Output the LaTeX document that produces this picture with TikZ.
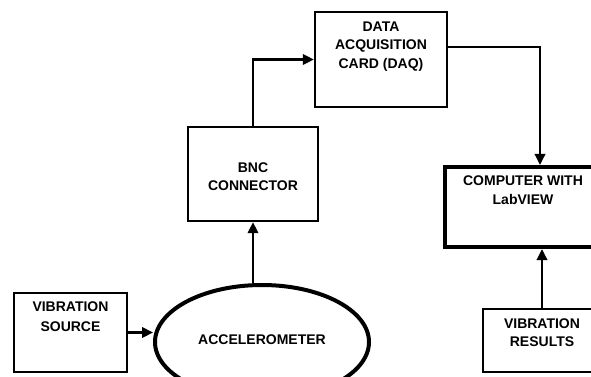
\documentclass[tikz,border=0pt]{standalone}
\usepackage{fontspec}
\setmainfont{Liberation Sans}
\usetikzlibrary{arrows.meta,shapes.geometric,calc}
\tikzset{
  box/.style={draw=black, line width=2.4pt, rectangle, inner sep=0pt},
  thickbox/.style={draw=black, line width=4.2pt, rectangle, inner sep=0pt},
  txt/.style={inner sep=0pt, align=center, font=\fontsize{14}{19}\selectfont\bfseries},
  arr/.style={line width=2.2pt, -{Triangle[length=11pt,width=10.5pt]}},
  conn/.style={line width=2.2pt}
}
\begin{document}
\begin{tikzpicture}[x=1pt,y=-1pt]
\clip (0,0) rectangle (591,376);
\fill[white] (0,0) rectangle (591,376);
% boxes
\node (daq) [box, minimum width=132pt, minimum height=95pt] at (381,59.5) {};
\node (daqt) [txt, anchor=north, font=\fontsize{14}{18.5}\selectfont\bfseries] at ([yshift=-10.5pt]daq.north) {DATA\\ACQUISITION\\CARD (DAQ)};
\node (bnc) [box, minimum width=130pt, minimum height=94pt] at (253,174) {};
\node (bnct) [txt, font=\fontsize{14}{17.5}\selectfont\bfseries] at (253,176.5) {BNC\\CONNECTOR};
\node (comp) [thickbox, minimum width=156pt, minimum height=80pt] at (523,207) {};
\node (compt) [txt, anchor=north] at ([yshift=-10.5pt]comp.north) {COMPUTER WITH\\LabVIEW};
\node (res) [box, minimum width=118pt, minimum height=63pt] at (542,340.5) {};
\node (rest) [txt, anchor=north, font=\fontsize{14}{18}\selectfont\bfseries] at ([yshift=-10.5pt]res.north) {VIBRATION\\RESULTS};
\node (src) [box, minimum width=113pt, minimum height=79pt] at (70.5,332.5) {};
\node (srct) [txt, anchor=north, font=\fontsize{14}{20}\selectfont\bfseries] at ([yshift=-9.5pt]src.north) {VIBRATION\\SOURCE};
\node (acc) [draw=black, line width=4pt, ellipse, minimum width=214pt, minimum height=114pt, inner sep=0pt] at (262,342) {};
\node (acct) [txt] at (262,340) {ACCELEROMETER};
% connectors
\draw[arr] (src.east) -- (src.east -| acc.west);
\draw[arr] (bnc.south |- acc.north) -- (bnc.south);
\draw[arr] (bnc.north) |- (daq.west);
\coordinate (daqout) at ([yshift=12.5pt]daq.east);
\coordinate (compin) at ([xshift=17pt]comp.north);
\draw[arr] (daqout) -| (compin);
\draw[arr] (res.north) -- (res.north |- comp.south);
\end{tikzpicture}
\end{document}
